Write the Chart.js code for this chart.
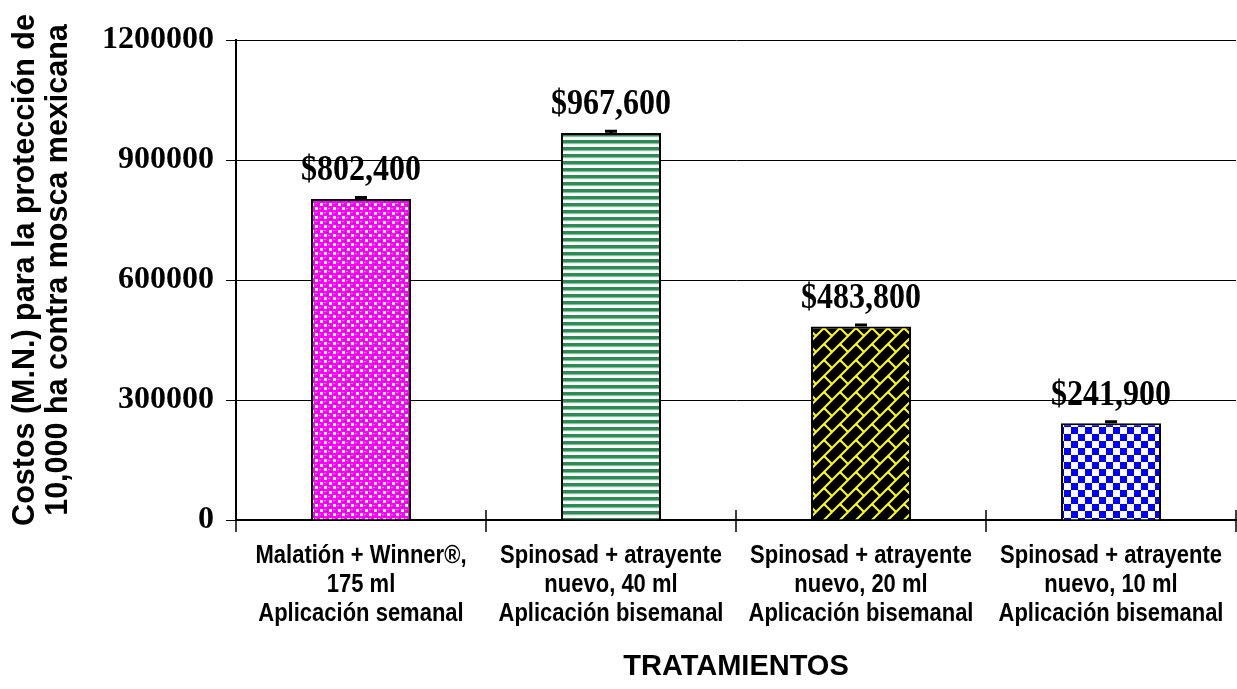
<!DOCTYPE html>
<html>
<head>
<meta charset="utf-8">
<script src="https://cdn.jsdelivr.net/npm/chart.js@4/dist/chart.umd.min.js"></script>
<style>
html,body{margin:0;padding:0;background:#fff;}
#wrap{width:1237px;height:689px;}
</style>
</head>
<body>
<div id="wrap"><canvas id="c" width="1237" height="689"></canvas></div>
<script>
const categories = [
  ["Malatión + Winner®,", "175 ml", "Aplicación semanal"],
  ["Spinosad + atrayente", "nuevo, 40 ml", "Aplicación bisemanal"],
  ["Spinosad + atrayente", "nuevo, 20 ml", "Aplicación bisemanal"],
  ["Spinosad + atrayente", "nuevo, 10 ml", "Aplicación bisemanal"]
];
const costs = [802400, 967600, 483800, 241900];
const errors = [4000, 4000, 4000, 4000];
const valueLabels = ["$802,400", "$967,600", "$483,800", "$241,900"];
const yTicks = [0, 300000, 600000, 900000, 1200000];
const yTitle = ['Costos (M.N.) para la protección de', '10,000 ha contra mosca mexicana'];
const xTitle = 'TRATAMIENTOS';

function makePattern(w, h, draw) {
  const t = document.createElement('canvas');
  t.width = w; t.height = h;
  const g = t.getContext('2d');
  draw(g, w, h);
  return document.getElementById('c').getContext('2d').createPattern(t, 'repeat');
}
const pMagenta = makePattern(9, 9, (g) => {
  g.fillStyle = '#ff00ff'; g.fillRect(0,0,9,9);
  g.fillStyle = '#ffffff';
  g.fillRect(0,0,3,3); g.fillRect(5,5,3,3);
  g.fillStyle = '#ff8cff';
  g.fillRect(4,1,2,1); g.fillRect(0,5,2,1);
  g.fillStyle = '#d000d0';
  g.fillRect(6,3,2,1); g.fillRect(2,7,2,1);
});
const pGreen = makePattern(8, 7, (g) => {
  g.fillStyle = '#ffffff'; g.fillRect(0,0,8,7);
  g.fillStyle = '#2e8b57'; g.fillRect(0,0,8,3);
  g.fillStyle = '#7fc49c'; g.fillRect(0,3,8,1);
  g.fillStyle = '#e6f2ea'; g.fillRect(0,4,8,1);
});
const pBrick = makePattern(16, 16, (g) => {
  g.fillStyle = '#000000'; g.fillRect(0,0,16,16);
  g.strokeStyle = '#ffff00'; g.lineWidth = 2;
  g.lineCap = 'square';
  g.beginPath();
  for (const k of [0, 16, 32]) { g.moveTo(k - 16, 16); g.lineTo(k, 0); g.moveTo(k - 32, 32); g.lineTo(k + 16, -16); }
  for (const dx of [-16, 0, 16]) for (const dy of [-16, 0, 16]) {
    g.moveTo(8 + dx, 8 + dy); g.lineTo(16 + dx, 16 + dy);
  }
  g.stroke();
});
const pBlue = makePattern(14, 14, (g) => {
  g.fillStyle = '#ffffff'; g.fillRect(0,0,14,14);
  g.fillStyle = '#0000ff';
  g.fillRect(0,0,7,7); g.fillRect(7,7,7,7);
});

const overlay = {
  id: 'overlay',
  afterDatasetsDraw(chart) {
    const ctx = chart.ctx;
    const meta = chart.getDatasetMeta(0);
    const ys = chart.scales.y;
    const xs = chart.scales.x;
    ctx.save();
    // error caps
    ctx.strokeStyle = '#000'; ctx.lineWidth = 3;
    meta.data.forEach((bar, i) => {
      const top = ys.getPixelForValue(costs[i] + errors[i]);
      const base = ys.getPixelForValue(costs[i]);
      ctx.beginPath();
      ctx.moveTo(bar.x, base); ctx.lineTo(bar.x, top);
      ctx.moveTo(bar.x - 6, top); ctx.lineTo(bar.x + 6, top);
      ctx.stroke();
    });
    // value labels
    ctx.fillStyle = '#000';
    ctx.font = 'bold 32px "Liberation Serif", "Times New Roman", serif';
    ctx.textAlign = 'center'; ctx.textBaseline = 'middle';
    meta.data.forEach((bar, i) => {
      ctx.save();
      ctx.translate(bar.x, bar.y - 28);
      ctx.scale(1, 1.14);
      ctx.fillText(valueLabels[i], 0, 0);
      ctx.restore();
    });
    // x-axis crossing ticks at category boundaries
    ctx.lineWidth = 1.5;
    ctx.beginPath();
    for (let i = 0; i <= categories.length; i++) {
      const x = Math.round(xs.getPixelForValue(i - 0.5));
      ctx.moveTo(x, xs.top - 10); ctx.lineTo(x, xs.top + 12);
    }
    ctx.stroke();
    // category labels
    ctx.font = 'bold 22px "Liberation Sans", Arial, sans-serif';
    categories.forEach((lines, i) => {
      const x = xs.getPixelForValue(i);
      lines.forEach((ln, j) => {
        ctx.save();
        ctx.translate(x, xs.top + 36 + j * 29);
        ctx.scale(1, 1.15);
        ctx.fillText(ln, 0, 0);
        ctx.restore();
      });
    });
    // x title
    ctx.font = 'bold 29px "Liberation Sans", Arial, sans-serif';
    ctx.fillText(xTitle, (xs.left + xs.right) / 2, xs.top + 147);
    // y title
    ctx.font = 'bold 30.5px "Liberation Sans", Arial, sans-serif';
    const cy = (ys.top + ys.bottom) / 2 - 10;
    yTitle.forEach((ln, j) => {
      ctx.save();
      ctx.translate(26 + j * 33, cy);
      ctx.rotate(-Math.PI / 2);
      ctx.fillText(ln, 0, 0);
      ctx.restore();
    });
    ctx.restore();
  }
};

new Chart(document.getElementById('c'), {
  type: 'bar',
  data: {
    labels: categories,
    datasets: [{
      data: costs,
      backgroundColor: [pMagenta, pGreen, pBrick, pBlue],
      borderColor: '#000',
      borderWidth: 2,
      borderSkipped: 'bottom',
      barPercentage: 0.4,
      categoryPercentage: 1.0
    }]
  },
  options: {
    responsive: false,
    animation: false,
    events: [],
    layout: { padding: { left: 0, right: 1, top: 40, bottom: 0 } },
    plugins: { legend: { display: false }, tooltip: { enabled: false } },
    scales: {
      x: {
        offset: true,
        grid: { display: false, offset: true },
        border: { display: true, color: '#000', width: 2 },
        ticks: { display: false },
        afterFit(scale) { scale.height = 169; }
      },
      y: {
        min: 0, max: 1200000,
        afterBuildTicks(scale) { scale.ticks = yTicks.map(v => ({ value: v })); },
        grid: { color: '#000', lineWidth: 1, tickLength: 10, drawTicks: true },
        border: { display: true, color: '#000', width: 2 },
        ticks: {
          color: '#000',
          font: { family: '"Liberation Serif", "Times New Roman", serif', size: 32, weight: 'bold' },
          padding: 12,
          callback: (v) => String(v)
        },
        afterFit(scale) { scale.width = 236; }
      }
    }
  },
  plugins: [overlay]
});
</script>
</body>
</html>
